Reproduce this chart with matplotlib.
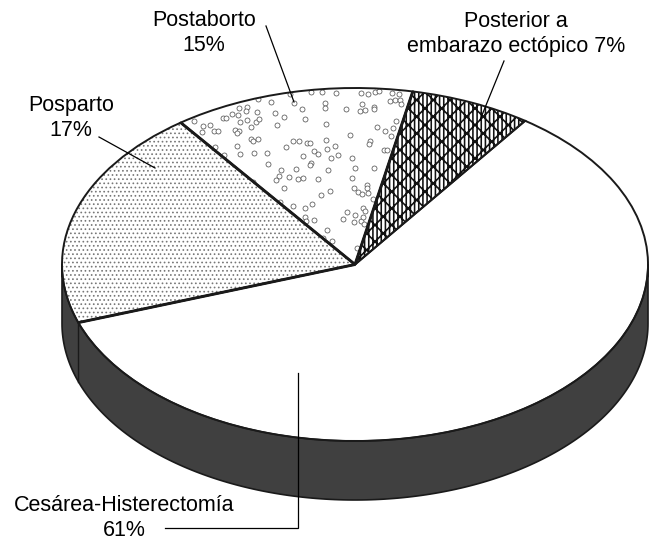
import matplotlib
matplotlib.use("Agg")
import numpy as np
import matplotlib.pyplot as plt

plt.rcParams['font.family'] = ['Liberation Sans', 'DejaVu Sans']
plt.rcParams['hatch.linewidth'] = 0.7

# Data: slice order clockwise from the top right; sizes as drawn in the picture
categories = ["Cesárea-Histerectomía", "Posparto", "Postaborto", "Posterior a\nembarazo ectópico"]
printed_percent = [61, 17, 15, 7]
drawn_share = [59.8, 20.2, 13.3, 6.7]

# Decorative speckle texture of the Postaborto slice (zoomed-crop coordinates)
speckle_zoom = [(133,153),(158,168),(180,164),(157,185),(193,184),(204,184),(218,144),(227,143),(245,132),
 (264,135),(268,113),(291,110),(289,124),(320,127),(323,88),(364,96),(420,72),(433,99),(374,129),(403,141),
 (457,118),(466,148),(483,65),(515,67),(559,70),(525,98),(525,115),(589,118),(632,70),(655,71),(676,67),
 (686,64),(725,70),(747,72),(720,94),(734,91),(751,90),(752,103),(635,102),(630,124),(645,120),(672,110),
 (673,117),(527,162),(381,166),(270,156),(292,151),(318,155),(328,148),(302,171),(254,180),(266,182),
 (262,190),(304,208),(310,213),(323,208),(195,230),(223,256),(261,228),(271,253),(311,248),(352,250),
 (353,283),(407,232),(428,213),(447,214),(471,218),(480,220),(527,210),(554,227),(531,238),(493,243),
 (505,253),(460,259),(544,263),(563,256),(607,263),(601,194),(680,170),(704,184),(722,197),(730,175),
 (739,152),(661,213),(658,222),(701,240),(712,241),(482,278),(479,286),(438,298),(392,301),(388,318),
 (379,330),(418,320),(445,327),(460,324),(505,327),(535,301),(616,295),(673,295),(606,325),(401,355),
 (611,353),(625,365),(635,371),(651,344),(650,355),(654,369),(541,364),(513,375),(668,388),(391,397),
 (429,409),(465,415),(485,403),(638,413),(646,423),(592,426),(615,434),(578,446),(613,455),(632,452),
 (640,440),(641,461),(465,441),(469,454),(493,451),(531,481),(547,512),(518,503),(620,535),(308,335)]

W, H = 649, 540
CX, CY, RX, RY = 355, 264.5, 293, 176.5
DEPTH = 59 / RY
START = 54.5
FS = 15.5

def px(x, y):
    return (np.asarray(x, float) - CX) / RX, (CY - np.asarray(y, float)) / RY

fig = plt.figure(figsize=(W / 100, H / 100), dpi=100, facecolor='white')
ax = fig.add_axes([0, 0, 1, 1])

# textures
wedges, _ = ax.pie(drawn_share, startangle=START, counterclock=False, radius=1,
                   wedgeprops=dict(facecolor='white', linewidth=0))
wedges[0].set_edgecolor('white')
wedges[1].set_hatch('.' * 4); wedges[1].set_edgecolor('#777777')
wedges[2].set_edgecolor('white')
wedges[3].set_hatch('||||//\\\\'); wedges[3].set_edgecolor('#111111')
if hasattr(wedges[3], 'set_hatch_linewidth'):
    wedges[3].set_hatch_linewidth(1.15)

# boundary angles, clockwise from the start
bounds = START - 360 * np.cumsum(drawn_share) / sum(drawn_share)

# side wall
t = np.radians(np.linspace(180, 360, 200))
xs, ys = np.cos(t), np.sin(t)
ax.fill(np.r_[xs, xs[::-1]], np.r_[ys, ys[::-1] - DEPTH], facecolor='#404040',
        edgecolor='#1a1a1a', linewidth=1.2, zorder=1)
seam = np.radians(bounds[0])
ax.plot([np.cos(seam)] * 2, [np.sin(seam), np.sin(seam) - DEPTH], color='#1a1a1a', lw=1.0, zorder=2)

# speckles, clipped to the slice
sx, sy = px([150 + p[0] / 3 for p in speckle_zoom], [70 + p[1] / 3 for p in speckle_zoom])
sc = ax.scatter(sx, sy, s=13, facecolors='white', edgecolors='#555555', linewidths=0.55, zorder=3)
sc.set_clip_path(wedges[2])

# slice outlines
outl, _ = ax.pie(drawn_share, startangle=START, counterclock=False, radius=1,
                 wedgeprops=dict(fill=False, edgecolor='#1a1a1a', linewidth=1.4, zorder=4))
# heavier spokes round the Posparto and Postaborto slices
for b in bounds[:3]:
    a = np.radians(b)
    ax.plot([0, np.cos(a)], [0, np.sin(a)], color='#1a1a1a', lw=2.1, zorder=4.5, solid_capstyle='butt')

ax.set_aspect('auto')
ax.set_xlim(-CX / RX, (W - CX) / RX)
ax.set_ylim((CY - H) / RY, CY / RY)
ax.axis('off')

# leader lines
for lx, ly in [([266, 294], [26, 102]), ([504, 480], [61, 120]), ([99, 155], [137, 168]),
               ([298, 298, 165], [373, 528, 528])]:
    dx, dy = px(lx, ly)
    ax.plot(dx, dy, color='black', lw=0.9, zorder=5, solid_joinstyle='miter')

# labels
for name, pct, (tx, ty) in zip(categories, printed_percent,
                               [(124, 518), (71, 118), (204, 33), (516, 34)]):
    dx, dy = px(tx, ty)
    sep = " " if "\n" in name else "\n"
    ax.text(dx, dy, f"{name}{sep}{pct}%", ha='center', va='center', fontsize=FS,
            linespacing=1.28, color='black', zorder=6)

fig.savefig("out.png", dpi=100, facecolor='white')
